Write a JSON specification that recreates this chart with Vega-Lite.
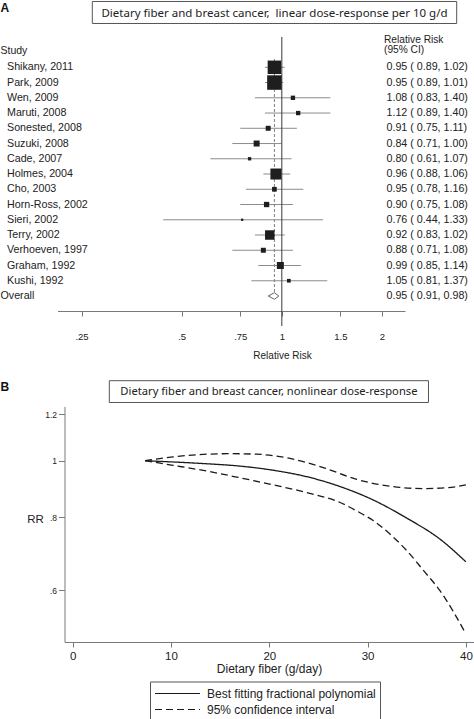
{
  "$schema": "https://vega.github.io/schema/vega-lite/v6.json",
  "padding": 0,
  "autosize": {"type": "pad"},
  "background": "white",
  "spacing": 0,
  "bounds": "flush",
  "config": {
    "view": {"stroke": null},
    "concat": {"spacing": 0},
    "font": "Liberation Sans",
    "text": {"font": "Liberation Sans", "color": "#222222"},
    "axis": {
      "grid": false,
      "domainColor": "#7a7a7a",
      "tickColor": "#7a7a7a",
      "labelColor": "#222222",
      "titleColor": "#222222",
      "labelFont": "Liberation Sans",
      "titleFont": "Liberation Sans",
      "titleFontWeight": "normal",
      "labelFlush": false,
      "labelOverlap": false,
      "labelBound": false,
      "domainWidth": 1,
      "tickWidth": 1
    }
  },
  "datasets": {
    "forest": [
      {"study": "Shikany, 2011", "row": 1, "rr": 0.95, "lo": 0.89, "hi": 1.02, "weight": 21.3, "kind": "study"},
      {"study": "Park, 2009", "row": 2, "rr": 0.95, "lo": 0.89, "hi": 1.01, "weight": 24.6, "kind": "study"},
      {"study": "Wen, 2009", "row": 3, "rr": 1.08, "lo": 0.83, "hi": 1.40, "weight": 2.2, "kind": "study"},
      {"study": "Maruti, 2008", "row": 4, "rr": 1.12, "lo": 0.89, "hi": 1.40, "weight": 2.2, "kind": "study"},
      {"study": "Sonested, 2008", "row": 5, "rr": 0.91, "lo": 0.75, "hi": 1.11, "weight": 2.9, "kind": "study"},
      {"study": "Suzuki, 2008", "row": 6, "rr": 0.84, "lo": 0.71, "hi": 1.00, "weight": 4.2, "kind": "study"},
      {"study": "Cade, 2007", "row": 7, "rr": 0.80, "lo": 0.61, "hi": 1.07, "weight": 1.3, "kind": "study"},
      {"study": "Holmes, 2004", "row": 8, "rr": 0.96, "lo": 0.88, "hi": 1.06, "weight": 14.2, "kind": "study"},
      {"study": "Cho, 2003", "row": 9, "rr": 0.95, "lo": 0.78, "hi": 1.16, "weight": 2.6, "kind": "study"},
      {"study": "Horn-Ross, 2002", "row": 10, "rr": 0.90, "lo": 0.75, "hi": 1.08, "weight": 3.3, "kind": "study"},
      {"study": "Sieri, 2002", "row": 11, "rr": 0.76, "lo": 0.44, "hi": 1.33, "weight": 0.6, "kind": "study"},
      {"study": "Terry, 2002", "row": 12, "rr": 0.92, "lo": 0.83, "hi": 1.02, "weight": 10.5, "kind": "study"},
      {"study": "Verhoeven, 1997", "row": 13, "rr": 0.88, "lo": 0.71, "hi": 1.08, "weight": 2.9, "kind": "study"},
      {"study": "Graham, 1992", "row": 14, "rr": 0.99, "lo": 0.85, "hi": 1.14, "weight": 5.7, "kind": "study"},
      {"study": "Kushi, 1992", "row": 15, "rr": 1.05, "lo": 0.81, "hi": 1.37, "weight": 1.6, "kind": "study"},
      {"study": "Overall", "row": 16, "rr": 0.95, "lo": 0.91, "hi": 0.98, "kind": "overall"}
    ],
    "curves": [
      {"curve": "est", "type": "Best fitting fractional polynomial", "fiber": 7.36, "rr": 1.0},
      {"curve": "est", "type": "Best fitting fractional polynomial", "fiber": 10.2, "rr": 0.995},
      {"curve": "est", "type": "Best fitting fractional polynomial", "fiber": 13.63, "rr": 0.988},
      {"curve": "est", "type": "Best fitting fractional polynomial", "fiber": 17.0, "rr": 0.979},
      {"curve": "est", "type": "Best fitting fractional polynomial", "fiber": 20.4, "rr": 0.963},
      {"curve": "est", "type": "Best fitting fractional polynomial", "fiber": 23.8, "rr": 0.939},
      {"curve": "est", "type": "Best fitting fractional polynomial", "fiber": 27.2, "rr": 0.903},
      {"curve": "est", "type": "Best fitting fractional polynomial", "fiber": 30.6, "rr": 0.856},
      {"curve": "est", "type": "Best fitting fractional polynomial", "fiber": 34.0, "rr": 0.797},
      {"curve": "est", "type": "Best fitting fractional polynomial", "fiber": 37.36, "rr": 0.734},
      {"curve": "est", "type": "Best fitting fractional polynomial", "fiber": 40.0, "rr": 0.671},
      {"curve": "upper", "type": "95% confidence interval", "fiber": 7.36, "rr": 1.0},
      {"curve": "upper", "type": "95% confidence interval", "fiber": 10.2, "rr": 1.015},
      {"curve": "upper", "type": "95% confidence interval", "fiber": 13.63, "rr": 1.026},
      {"curve": "upper", "type": "95% confidence interval", "fiber": 16.0, "rr": 1.028},
      {"curve": "upper", "type": "95% confidence interval", "fiber": 18.7, "rr": 1.026},
      {"curve": "upper", "type": "95% confidence interval", "fiber": 22.1, "rr": 1.009},
      {"curve": "upper", "type": "95% confidence interval", "fiber": 25.5, "rr": 0.973},
      {"curve": "upper", "type": "95% confidence interval", "fiber": 28.9, "rr": 0.929},
      {"curve": "upper", "type": "95% confidence interval", "fiber": 32.3, "rr": 0.904},
      {"curve": "upper", "type": "95% confidence interval", "fiber": 35.7, "rr": 0.896},
      {"curve": "upper", "type": "95% confidence interval", "fiber": 38.1, "rr": 0.899},
      {"curve": "upper", "type": "95% confidence interval", "fiber": 40.0, "rr": 0.909},
      {"curve": "lower", "type": "95% confidence interval", "fiber": 7.36, "rr": 1.0},
      {"curve": "lower", "type": "95% confidence interval", "fiber": 10.2, "rr": 0.982},
      {"curve": "lower", "type": "95% confidence interval", "fiber": 13.63, "rr": 0.960},
      {"curve": "lower", "type": "95% confidence interval", "fiber": 17.0, "rr": 0.935},
      {"curve": "lower", "type": "95% confidence interval", "fiber": 20.4, "rr": 0.909},
      {"curve": "lower", "type": "95% confidence interval", "fiber": 23.8, "rr": 0.882},
      {"curve": "lower", "type": "95% confidence interval", "fiber": 27.2, "rr": 0.848},
      {"curve": "lower", "type": "95% confidence interval", "fiber": 28.9, "rr": 0.820},
      {"curve": "lower", "type": "95% confidence interval", "fiber": 30.6, "rr": 0.789},
      {"curve": "lower", "type": "95% confidence interval", "fiber": 32.3, "rr": 0.748},
      {"curve": "lower", "type": "95% confidence interval", "fiber": 34.0, "rr": 0.701},
      {"curve": "lower", "type": "95% confidence interval", "fiber": 35.7, "rr": 0.648},
      {"curve": "lower", "type": "95% confidence interval", "fiber": 37.36, "rr": 0.599},
      {"curve": "lower", "type": "95% confidence interval", "fiber": 40.0, "rr": 0.505}
    ]
  },
  "vconcat": [
    {
      "width": 474,
      "height": 370,
      "layer": [
        {
          "data": {"name": "forest"},
          "transform": [{"filter": "datum.kind === 'study'"}],
          "mark": {"type": "rule", "color": "#8c8c8c", "strokeWidth": 1},
          "encoding": {
            "x": {
              "field": "lo", "type": "quantitative",
              "scale": {"type": "log", "domain": [0.2117, 2.3457], "range": [57.5, 405], "nice": false},
              "axis": {
                "orient": "bottom", "offset": -60,
                "values": [0.25, 0.5, 0.75, 1, 1.5, 2],
                "labelExpr": "datum.value < 1 ? substring(format(datum.value, '~g'), 1) : format(datum.value, '~g')",
                "labelFontSize": 9.5, "labelPadding": 15.5, "tickSize": 5,
                "title": "Relative Risk", "titleFontSize": 10,
                "titleX": 282, "titleY": 44, "titleAlign": "center", "titleBaseline": "middle"
              }
            },
            "x2": {"field": "hi"},
            "y": {
              "field": "row", "type": "quantitative",
              "scale": {"domain": [1, 16], "range": [66.3, 295], "nice": false, "zero": false},
              "axis": null
            }
          }
        },
        {
          "data": {"values": [{"ref": 1}]},
          "mark": {"type": "rule", "color": "#3a3a3a", "strokeWidth": 1},
          "encoding": {
            "x": {"field": "ref", "type": "quantitative"},
            "y": {"datum": -0.987, "axis": null},
            "y2": {"datum": 17.967}
          }
        },
        {
          "data": {"name": "forest"},
          "transform": [{"filter": "datum.kind === 'overall'"}],
          "mark": {"type": "rule", "color": "#808080", "strokeWidth": 1, "strokeDash": [3, 2]},
          "encoding": {
            "x": {"field": "rr", "type": "quantitative"},
            "y": {"datum": 0.456, "axis": null},
            "y2": {"datum": 15.737}
          }
        },
        {
          "data": {"name": "forest"},
          "transform": [{"filter": "datum.kind === 'study'"}],
          "mark": {"type": "point", "shape": "square", "filled": true, "color": "#1e1e1e", "opacity": 1},
          "encoding": {
            "x": {"field": "rr", "type": "quantitative"},
            "y": {"field": "row", "type": "quantitative", "axis": null},
            "size": {"field": "weight", "type": "quantitative", "scale": {"type": "linear", "domain": [0, 100], "range": [0, 855], "zero": true}, "legend": null}
          }
        },
        {
          "data": {"name": "forest"},
          "transform": [{"filter": "datum.kind === 'overall'"}],
          "mark": {"type": "point", "shape": "M-1,0L0,-0.53L0.72,0L0,0.53Z", "filled": true, "fill": "white", "stroke": "#666666", "strokeWidth": 1, "size": 154, "opacity": 1},
          "encoding": {
            "x": {"field": "rr", "type": "quantitative"},
            "y": {"field": "row", "type": "quantitative", "axis": null}
          }
        },
        {
          "data": {"name": "forest"},
          "transform": [{"filter": "datum.kind === 'study'"}],
          "mark": {"type": "text", "align": "left", "baseline": "middle", "fontSize": 10.7},
          "encoding": {
            "x": {"datum": 0.14925},
            "y": {"field": "row", "type": "quantitative", "axis": null},
            "text": {"field": "study"}
          }
        },
        {
          "data": {"name": "forest"},
          "transform": [{"filter": "datum.kind === 'overall'"}],
          "mark": {"type": "text", "align": "left", "baseline": "middle", "fontSize": 10.7},
          "encoding": {
            "x": {"datum": 0.14269},
            "y": {"field": "row", "type": "quantitative", "axis": null},
            "text": {"field": "study"}
          }
        },
        {
          "data": {"name": "forest"},
          "transform": [{"calculate": "format(datum.rr, '.2f') + ' ( ' + format(datum.lo, '.2f') + ', ' + format(datum.hi, '.2f') + ')'", "as": "ci"}],
          "mark": {"type": "text", "align": "left", "baseline": "middle", "fontSize": 10.7},
          "encoding": {
            "x": {"datum": 2.0638},
            "y": {"field": "row", "type": "quantitative", "axis": null},
            "text": {"field": "ci"}
          }
        },
        {
          "data": {"values": [{"t": "Study"}]},
          "mark": {"type": "text", "align": "left", "baseline": "middle", "fontSize": 10.5},
          "encoding": {
            "x": {"datum": 0.14269},
            "y": {"datum": -0.089, "axis": null},
            "text": {"field": "t"}
          }
        },
        {
          "data": {"values": [{"t": ["Relative Risk", "(95% CI)"]}]},
          "mark": {"type": "text", "align": "left", "baseline": "middle", "fontSize": 10.2, "lineHeight": 10.3},
          "encoding": {
            "x": {"datum": 2.0285},
            "y": {"datum": -0.79, "axis": null},
            "text": {"field": "t"}
          }
        },
        {
          "data": {"values": [{"t": "Dietary fiber and breast cancer,\u00a0 linear dose-response per 10 g/d"}]},
          "mark": {"type": "rect", "filled": false, "stroke": "#555555", "strokeWidth": 1},
          "encoding": {
            "x": {"datum": 0.26935},
            "x2": {"datum": 3.3549},
            "y": {"datum": -3.316, "axis": null},
            "y2": {"datum": -1.873}
          }
        },
        {
          "data": {"values": [{"t": "Dietary fiber and breast cancer,\u00a0 linear dose-response per 10 g/d"}]},
          "mark": {"type": "text", "align": "center", "baseline": "middle", "fontSize": 11.5, "font": "Noto Sans"},
          "encoding": {
            "x": {"datum": 0.9506},
            "y": {"datum": -2.476, "axis": null},
            "text": {"field": "t"}
          }
        },
        {
          "data": {"values": [{"t": "A"}]},
          "mark": {"type": "text", "align": "left", "baseline": "middle", "fontSize": 12, "fontWeight": "bold", "color": "#111111"},
          "encoding": {
            "x": {"datum": 0.14269},
            "y": {"datum": -2.87, "axis": null},
            "text": {"field": "t"}
          }
        }
      ]
    },
    {
      "width": 474,
      "height": 349,
      "layer": [
        {
          "data": {"name": "curves"},
          "mark": {"type": "line", "interpolate": "monotone", "strokeWidth": 1.3, "color": "#1a1a1a"},
          "encoding": {
            "x": {
              "field": "fiber", "type": "quantitative",
              "scale": {"domain": [-0.834, 40.824], "range": [64.5, 474], "nice": false, "zero": false},
              "axis": {
                "orient": "bottom", "offset": -78,
                "values": [0, 10, 20, 30, 40],
                "labelFontSize": 11.5, "labelPadding": 3, "tickSize": 5,
                "title": "Dietary fiber (g/day)", "titleFontSize": 12,
                "titleX": 269, "titleY": 26, "titleAlign": "center", "titleBaseline": "middle"
              }
            },
            "y": {
              "field": "rr", "type": "quantitative",
              "scale": {"type": "log", "domain": [0.4891, 1.2384], "range": [271, 35.5], "nice": false},
              "axis": {
                "orient": "left", "offset": -64.5,
                "values": [0.6, 0.8, 1, 1.2],
                "labelExpr": "datum.value < 1 ? substring(format(datum.value, '~g'), 1) : format(datum.value, '~g')",
                "labelFontSize": 8.5, "labelPadding": 2, "tickSize": 6,
                "title": "RR", "titleFontSize": 11.5, "titleAngle": 0,
                "titleX": -29.5, "titleY": 148, "titleAlign": "center", "titleBaseline": "middle"
              }
            },
            "strokeDash": {
              "field": "type", "type": "nominal",
              "scale": {"domain": ["Best fitting fractional polynomial", "95% confidence interval"], "range": [[1, 0], [7, 4]]},
              "legend": {
                "orient": "none", "legendX": 150, "legendY": 680.5,
                "title": null, "direction": "vertical",
                "symbolType": "stroke", "symbolSize": 2025, "symbolStrokeWidth": 1.2, "symbolStrokeColor": "#1a1a1a",
                "clipHeight": 16, "rowPadding": 0, "padding": 4,
                "labelFontSize": 12, "labelOffset": 6, "labelLimit": 400, "labelColor": "#222222", "labelFont": "Liberation Sans",
                "strokeColor": "#555555", "fillColor": "white"
              }
            },
            "detail": {"field": "curve"}
          }
        },
        {
          "data": {"values": [{"t": "Dietary fiber and breast cancer, nonlinear dose-response"}]},
          "mark": {"type": "rect", "filled": false, "stroke": "#555555", "strokeWidth": 1},
          "encoding": {
            "x": {"datum": 3.725},
            "x2": {"datum": 36.193},
            "y": {"datum": 1.3711},
            "y2": {"datum": 1.2581}
          }
        },
        {
          "data": {"values": [{"t": "Dietary fiber and breast cancer, nonlinear dose-response"}]},
          "mark": {"type": "text", "align": "center", "baseline": "middle", "fontSize": 11.2, "font": "Noto Sans"},
          "encoding": {
            "x": {"datum": 19.96},
            "y": {"datum": 1.3133},
            "text": {"field": "t"}
          }
        },
        {
          "data": {"values": [{"t": "B"}]},
          "mark": {"type": "text", "align": "left", "baseline": "middle", "fontSize": 12, "fontWeight": "bold", "color": "#111111"},
          "encoding": {
            "x": {"datum": -7.349},
            "y": {"datum": 1.34},
            "text": {"field": "t"}
          }
        }
      ]
    }
  ]
}
